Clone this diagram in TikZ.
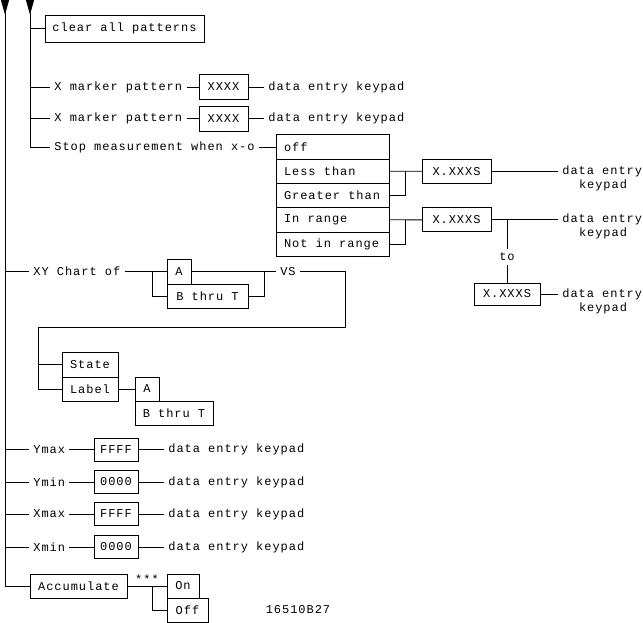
\documentclass[tikz,border=0pt]{standalone}
\usepackage{fontspec}
\newfontfamily\plotfont[LetterSpace=8,WordSpace={1,0,0}]{Liberation Mono}
\usetikzlibrary{arrows.meta,positioning}
\newcommand\menuitem[1]{\makebox[72.75pt][l]{#1}}

\begin{document}
\begin{tikzpicture}[x=0.75pt,y=-0.75pt,line width=0.6pt,
  every node/.style={font=\plotfont\fontsize{9}{11}\selectfont},
  box/.style={draw,inner sep=0pt,outer sep=0pt,minimum height=18pt},
  item/.style={draw,inner xsep=6pt,inner ysep=0pt,outer sep=0pt,minimum height=18.2pt},
  lbl/.style={inner sep=3pt},
  entry/.style={arrows={Triangle[reversed,length=11pt,width=6pt]}-}]
  \useasboundingbox (0,0) rectangle (643,623);
  \coordinate (trunk) at (5,0);
  \coordinate (branch) at (30,0);

  % pattern menu
  \node[box,minimum width=119.25pt,minimum height=20.25pt] (clear) at (124.5,28.5) {clear all patterns};
  \node[lbl,anchor=west] (xm1) at (50,87) {X marker pattern};
  \node[box,minimum width=36.75pt,minimum height=18.75pt] (xv1) at (223.5,87) {XXXX};
  \node[lbl,anchor=west] (xk1) at (264,87) {data entry keypad};
  \node[lbl,anchor=west] (xm2) at (50,118.5) {X marker pattern};
  \node[box,minimum width=36.75pt,minimum height=18.75pt] (xv2) at (223.5,118.5) {XXXX};
  \node[lbl,anchor=west] (xk2) at (264,118.5) {data entry keypad};
  \node[lbl,anchor=west] (stop) at (50,147) {Stop measurement when x-o};
  \draw[entry] (branch) -- (branch |- stop.west) -- (stop.west);
  \draw (branch |- clear.west) -- (clear.west);
  \draw (branch |- xm1.west) -- (xm1.west);
  \draw (xm1.east) -- (xv1.west);
  \draw (xv1.east) -- (xk1.west);
  \draw (branch |- xm2.west) -- (xm2.west);
  \draw (xm2.east) -- (xv2.west);
  \draw (xv2.east) -- (xk2.west);

  % stop choices
  \node[item] (off) at (332.5,147) {\menuitem{off}};
  \node[item,below=0pt of off] (less) {\menuitem{Less than}};
  \node[item,below=0pt of less] (greater) {\menuitem{Greater than}};
  \node[item,below=0pt of greater] (inrange) {\menuitem{In range}};
  \node[item,below=0pt of inrange] (notin) {\menuitem{Not in range}};
  \draw (stop.east) -- (off.west);
  \node[box,minimum width=51.75pt] (lim1) at (456.5,171.3) {X.XXXS};
  \path (less.east) ++(16,0) coordinate (jlg);
  \draw (less.east) -- (lim1.west);
  \draw (greater.east) -| (jlg);
  \node[lbl,anchor=west] (de1) at (558,171.3) {data entry};
  \node[lbl] (kp1) at (603,185.3) {keypad};
  \draw (lim1.east) -- (de1.west);
  \node[box,minimum width=51.75pt] (lim2) at (456.5,219.9) {X.XXXS};
  \path (inrange.east) ++(16,0) coordinate (jin);
  \draw (inrange.east) -- (lim2.west);
  \draw (notin.east) -| (jin);
  \node[lbl,anchor=west] (de2) at (558,219.9) {data entry};
  \node[lbl] (kp2) at (603,233.9) {keypad};
  \draw (lim2.east) -- (de2.west);
  \node[lbl] (to) at (507,257) {to};
  \node[box,minimum width=49.5pt,minimum height=16.5pt] (lim3) at (507,294) {X.XXXS};
  \draw (lim3.north |- lim2.east) -- (to.north);
  \draw (to.south) -- (lim3.north);
  \node[lbl,anchor=west] (de3) at (558,294) {data entry};
  \node[lbl] (kp3) at (603,308) {keypad};
  \draw (lim3.east) -- (de3.west);

  % chart
  \node[lbl,anchor=west] (xy) at (29,271.5) {XY Chart of};
  \node[box,minimum width=18pt,minimum height=18.75pt] (xa) at (179,271.5) {A};
  \node[box,minimum width=60.75pt,anchor=north west] (xb) at (xa.south west) {B thru T};
  \path (xa.west) ++(-15,0) coordinate (jxa);
  \draw (trunk |- xy.west) -- (xy.west);
  \draw (xy.east) -- (xa.west);
  \draw (jxa) |- (xb.west);
  \node[lbl] (vs) at (288,271.5) {VS};
  \path (xa.east) ++(73,0) coordinate (jvs);
  \draw (xa.east) -- (vs.west);
  \draw (xb.east) -| (jvs);
  \coordinate (turn) at (345,327);
  \coordinate (drop) at (38,327);
  \node[box,minimum width=42pt,minimum height=18.75pt] (state) at (90,364.5) {State};
  \node[box,minimum width=42pt,anchor=north] (label) at (state.south) {Label};
  \draw (vs.east) -| (turn) -- (drop) |- (label.west);
  \draw (drop |- state.west) -- (state.west);
  \node[box,minimum width=18pt,right=12.75pt of label] (la) {A};
  \node[box,minimum width=58.5pt,anchor=north west] (lb) at (la.south west) {B thru T};
  \draw (label.east) -- (la.west);

  % scale limits
  \node[lbl,anchor=west] (ymax) at (29,449.5) {Ymax};
  \node[box,minimum width=33pt,minimum height=17.25pt] (ymaxv) at (116,449.5) {FFFF};
  \node[lbl,anchor=west] (ymaxk) at (164,449.5) {data entry keypad};
  \node[lbl,anchor=west] (ymin) at (29,482) {Ymin};
  \node[box,minimum width=33pt,minimum height=17.25pt] (yminv) at (116,482) {0000};
  \node[lbl,anchor=west] (ymink) at (164,482) {data entry keypad};
  \node[lbl,anchor=west] (xmax) at (29,514) {Xmax};
  \node[box,minimum width=33pt,minimum height=17.25pt] (xmaxv) at (116,514) {FFFF};
  \node[lbl,anchor=west] (xmaxk) at (164,514) {data entry keypad};
  \node[lbl,anchor=west] (xmin) at (29,547) {Xmin};
  \node[box,minimum width=33pt,minimum height=17.25pt] (xminv) at (116,547) {0000};
  \node[lbl,anchor=west] (xmink) at (164,547) {data entry keypad};
  \draw (trunk |- ymax.west) -- (ymax.west);
  \draw (ymax.east) -- (ymaxv.west);
  \draw (ymaxv.east) -- (ymaxk.west);
  \draw (trunk |- ymin.west) -- (ymin.west);
  \draw (ymin.east) -- (yminv.west);
  \draw (yminv.east) -- (ymink.west);
  \draw (trunk |- xmax.west) -- (xmax.west);
  \draw (xmax.east) -- (xmaxv.west);
  \draw (xmaxv.east) -- (xmaxk.west);
  \draw (trunk |- xmin.west) -- (xmin.west);
  \draw (xmin.east) -- (xminv.west);
  \draw (xminv.east) -- (xmink.west);

  % accumulate
  \node[box,minimum width=72.75pt] (acc) at (78.5,586) {Accumulate};
  \node[box,minimum width=24pt] (on) at (183,586) {On};
  \node[box,minimum width=30.75pt,anchor=north west] (off2) at (on.south west) {Off};
  \path (on.west) ++(-15,0) coordinate (jon);
  \draw[entry] (trunk) -- (trunk |- acc.west) -- (acc.west);
  \draw (acc.east) -- (on.west);
  \draw (jon) |- (off2.west);
  \node[anchor=base] (stars) at (147,583) {***};
  \node (fig) at (298,610) {16510B27};
\end{tikzpicture}
\end{document}
